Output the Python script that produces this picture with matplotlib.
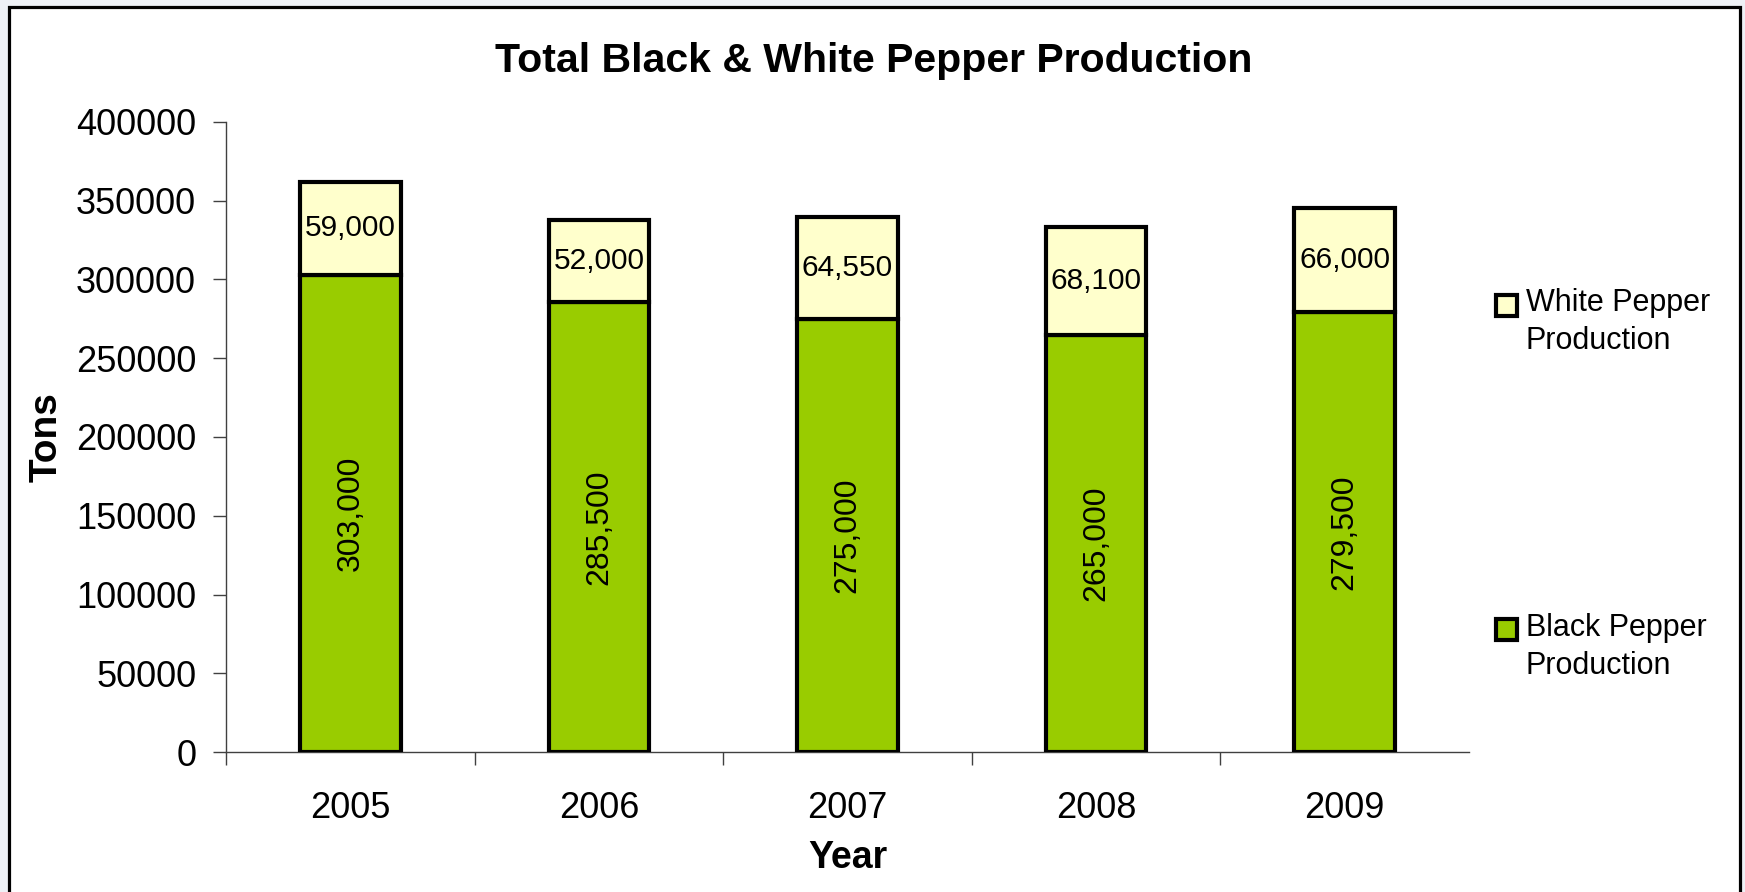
import matplotlib
matplotlib.use("Agg")
import matplotlib.pyplot as plt
from matplotlib.patches import Rectangle
import numpy as np

years = ["2005", "2006", "2007", "2008", "2009"]
black_pepper = [303000, 285500, 275000, 265000, 279500]
white_pepper = [59000, 52000, 64550, 68100, 66000]
black_labels = ["303,000", "285,500", "275,000", "265,000", "279,500"]
white_labels = ["59,000", "52,000", "64,550", "68,100", "66,000"]
yticks = [0, 50000, 100000, 150000, 200000, 250000, 300000, 350000, 400000]
series_names = ["White Pepper\nProduction", "Black Pepper\nProduction"]

plt.rcParams['font.family'] = ['Liberation Sans', 'DejaVu Sans']

W, H = 1745, 892
fig = plt.figure(figsize=(W / 100, H / 100), dpi=100)
fig.patch.set_facecolor('#eef1f6')

# white framed chart area
frame = Rectangle((8.5 / W, -0.05), (1740 - 8.5) / W, (H - 7 + 0.05 * H) / H * 1.0,
                  transform=fig.transFigure, facecolor='white', edgecolor='black',
                  linewidth=2.3, zorder=-10)
fig.patches.append(frame)

ax_left, ax_right = 226, 1469
ax_top, ax_bottom = 122, 752
ax = fig.add_axes([ax_left / W, (H - ax_bottom) / H,
                   (ax_right - ax_left) / W, (ax_bottom - ax_top) / H])
ax.set_facecolor('none')

x = np.arange(len(years))
green = '#99CC00'
cream = '#FFFFCC'
bw = 0.405
b1 = ax.bar(x, black_pepper, width=bw, color=green, edgecolor='black', linewidth=3, zorder=3)
b2 = ax.bar(x, white_pepper, width=bw, bottom=black_pepper, color=cream,
            edgecolor='black', linewidth=3, zorder=3)

for i in range(len(years)):
    ax.text(x[i], black_pepper[i] / 2, black_labels[i], rotation=90, ha='center',
            va='center', fontsize=23, zorder=5)
    ax.text(x[i], black_pepper[i] + white_pepper[i] / 2, white_labels[i], ha='center',
            va='center', fontsize=21.5, zorder=5)

ax.set_xlim(-0.5, len(years) - 0.5)
ax.set_ylim(0, 400000)
ax.set_yticks(yticks)
ax.set_yticklabels([str(v) for v in yticks])
ax.set_xticks(x)
ax.set_xticklabels(years)
ax.set_xticks(np.arange(-0.5, len(years) - 1, 1.0), minor=True)

ax.tick_params(axis='y', which='major', length=9.5, width=1, color='#404040',
               labelsize=26, pad=12)
ax.tick_params(axis='x', which='major', length=0, labelsize=26, pad=28)
ax.tick_params(axis='x', which='minor', length=9.5, width=1, color='#404040')

for s in ['top', 'right']:
    ax.spines[s].set_visible(False)
for s in ['left', 'bottom']:
    ax.spines[s].set_color('#404040')
    ax.spines[s].set_linewidth(1)

ax.set_ylabel('Tons', fontsize=28, fontweight='bold', va='center')
ax.yaxis.set_label_coords((47 - ax_left) / (ax_right - ax_left), 0.5)
ax.set_xlabel('Year', fontsize=27, fontweight='bold', va='center')
ax.xaxis.set_label_coords(0.5, (ax_bottom - 858) / (ax_bottom - ax_top))

fig.text(874 / W, 1 - 61 / H, 'Total Black & White Pepper Production',
         ha='center', va='center', fontsize=29.5, fontweight='bold')

# legend
leg_colors = [cream, green]
leg_sq_y = [305, 629]
leg_txt_y = [322, 647]
for c, sy, ty, name in zip(leg_colors, leg_sq_y, leg_txt_y, series_names):
    sq = Rectangle((1496 / W, (H - sy - 10.5) / H), 21 / W, 21 / H,
                   transform=fig.transFigure, facecolor=c, edgecolor='black',
                   linewidth=3, zorder=5)
    fig.patches.append(sq)
    fig.text(1526 / W, 1 - ty / H, name, ha='left', va='center', fontsize=22,
             linespacing=1.32)

fig.savefig('out.png', dpi=100, facecolor=fig.get_facecolor())
